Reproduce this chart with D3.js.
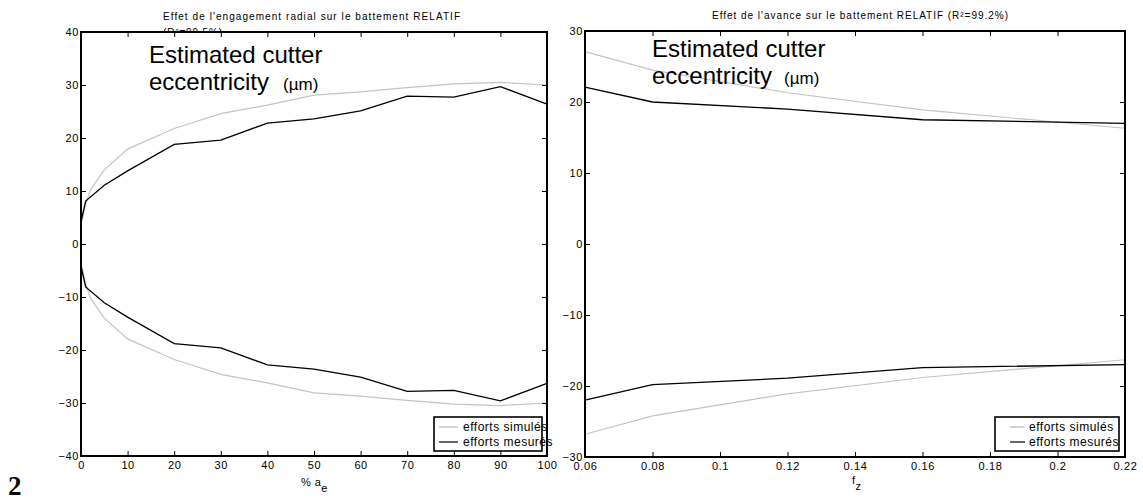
<!DOCTYPE html>
<html><head><meta charset="utf-8">
<script src="https://cdn.jsdelivr.net/npm/d3@7"></script>
<style>
body{margin:0;background:#fff;}
text{font-family:"Liberation Sans",Arial,sans-serif;fill:#000;}
</style></head>
<body><svg id="c" width="1143" height="498"></svg>
<script>
// ---------- data ----------
const aeSimX = [0,1,2,5,10,20,30,40,50,60,70,80,90,100];
const aeSimUp = [3.5,7.5,10.2,14.0,17.9,21.8,24.6,26.2,28.1,28.7,29.5,30.2,30.5,30.0];
const aeSimLo = [-3.5,-7.5,-10.2,-14.0,-17.9,-21.8,-24.6,-26.2,-28.1,-28.7,-29.5,-30.2,-30.5,-30.0];
const aeMesX = [0,1,5,10,20,30,40,50,60,70,80,90,100];
const aeMesUp = [4.2,8.1,11.1,13.8,18.8,19.6,22.8,23.6,25.1,27.9,27.7,29.7,26.4];
const aeMesLo = [-4.2,-8.1,-11.1,-13.8,-18.8,-19.6,-22.8,-23.6,-25.1,-27.8,-27.6,-29.6,-26.3];
const fzX = [0.06,0.08,0.12,0.16,0.22];
const fzSimUp = [27.1,24.5,21.3,18.9,16.3];
const fzSimLo = [-26.8,-24.2,-21.1,-18.8,-16.3];
const fzMesUp = [22.1,20.0,19.0,17.5,17.0];
const fzMesLo = [-22.0,-19.8,-18.9,-17.4,-17.0];
const aeTicks = [0,10,20,30,40,50,60,70,80,90,100];
const aeYTicks = [-40,-30,-20,-10,0,10,20,30,40];
const fzTicks = [0.06,0.08,0.1,0.12,0.14,0.16,0.18,0.2,0.22];
const fzYTicks = [-30,-20,-10,0,10,20,30];
const legendLabels = ["efforts simulés","efforts mesurés"];
const titleLeft = ["Effet de l'engagement radial sur le battement RELATIF","(R²=99.5%)"];
const titleRight = "Effet de l'avance sur le battement RELATIF (R²=99.2%)";

const svg = d3.select("#c");
const simColor = "#c4c4c4", mesColor = "#000";

function panel(o){
  const g = svg.append("g");
  o.titles.forEach(t=>{
    g.append("text").attr("x",t.x).attr("y",t.y).attr("font-size",10)
      .attr("textLength",t.w).attr("lengthAdjust","spacing").text(t.s);
  });
  g.append("rect").attr("x",o.x0).attr("y",o.y0).attr("width",o.x1-o.x0).attr("height",o.y1-o.y0).attr("fill","#fff");
  const x = d3.scaleLinear().domain(o.xd).range([o.x0,o.x1]);
  const y = d3.scaleLinear().domain(o.yd).range([o.y1,o.y0]);
  const line = d3.line().x(d=>x(d[0])).y(d=>y(d[1]));
  o.series.forEach(s=>{
    g.append("path").datum(s.x.map((v,i)=>[v,s.y[i]])).attr("d",line)
      .attr("fill","none").attr("stroke",s.c).attr("stroke-width",s.w);
  });
  const fs = 11;
  const ax = g.append("g").attr("transform",`translate(0,${o.y1})`)
    .call(d3.axisBottom(x).tickValues(o.xt).tickFormat(o.xf).tickSize(-5).tickSizeOuter(0).tickPadding(5));
  const at = g.append("g").attr("transform",`translate(0,${o.y0})`)
    .call(d3.axisTop(x).tickValues(o.xt).tickFormat("").tickSize(-5).tickSizeOuter(0));
  const ay = g.append("g").attr("transform",`translate(${o.x0},0)`)
    .call(d3.axisLeft(y).tickValues(o.yt).tickFormat(d3.format("d")).tickSize(-5).tickSizeOuter(0).tickPadding(2));
  const ar = g.append("g").attr("transform",`translate(${o.x1},0)`)
    .call(d3.axisRight(y).tickValues(o.yt).tickFormat("").tickSize(-5).tickSizeOuter(0));
  [ax,at,ay,ar].forEach(a=>{
    a.select(".domain").remove();
    a.selectAll(".tick line").attr("stroke","#000").attr("stroke-width",1);
    a.selectAll("text").attr("font-family","Liberation Sans, Arial, sans-serif").attr("font-size",fs).attr("letter-spacing",0.6).attr("fill","#000");
  });
  g.append("rect").attr("x",o.x0).attr("y",o.y0).attr("width",o.x1-o.x0).attr("height",o.y1-o.y0)
    .attr("fill","none").attr("stroke","#000").attr("stroke-width",2);
  const an = g.append("g");
  an.append("text").attr("x",o.ann[0]).attr("y",o.ann[1]).attr("font-size",24).text("Estimated cutter");
  const l2 = an.append("text").attr("x",o.ann[0]).attr("y",o.ann[1]+27).attr("font-size",24);
  l2.append("tspan").text("eccentricity");
  l2.append("tspan").attr("font-size",17).attr("dx",o.ann[2]).text("(µm)");
  const xl = g.append("text").attr("x",o.xl[0]).attr("y",o.xl[1]).attr("font-size",11).attr("letter-spacing",0.4);
  xl.append("tspan").text(o.xl[2]);
  xl.append("tspan").attr("dy",6).text(o.xl[3]);
  const L = o.leg;
  g.append("rect").attr("x",L.x).attr("y",L.y).attr("width",L.w).attr("height",L.h)
    .attr("fill","#fff").attr("stroke","#000").attr("stroke-width",1.6);
  [[simColor,1.5],[mesColor,1.2]].forEach((c,i)=>{
    const yy = L.y + 10 + i*15;
    g.append("line").attr("x1",L.lx0).attr("x2",L.lx1).attr("y1",yy).attr("y2",yy)
      .attr("stroke",c[0]).attr("stroke-width",c[1]);
    g.append("text").attr("x",L.tx).attr("y",yy+4).attr("font-size",12).attr("letter-spacing",0.5).text(legendLabels[i]);
  });
}

panel({
  x0:81,x1:547,y0:32,y1:456,xd:[0,100],yd:[-40,40],xt:aeTicks,yt:aeYTicks,xf:d3.format("d"),
  titles:[{x:163,y:20,w:297,s:titleLeft[0]},{x:163,y:36,w:59,s:titleLeft[1]}],
  series:[{x:aeSimX,y:aeSimUp,c:simColor,w:1.2},{x:aeSimX,y:aeSimLo,c:simColor,w:1.2},
          {x:aeMesX,y:aeMesUp,c:mesColor,w:1.3},{x:aeMesX,y:aeMesLo,c:mesColor,w:1.3}],
  ann:[149,63,14],
  xl:[301,486,"% a","e"],
  leg:{x:434,y:417,w:108,h:34,lx0:439,lx1:458,tx:463}
});
panel({
  x0:585,x1:1125,y0:31,y1:457,xd:[0.06,0.22],yd:[-30,30],xt:fzTicks,yt:fzYTicks,xf:d=>String(+d.toFixed(2)),
  titles:[{x:712,y:19,w:296,s:titleRight}],
  series:[{x:fzX,y:fzSimUp,c:simColor,w:1.2},{x:fzX,y:fzSimLo,c:simColor,w:1.2},
          {x:fzX,y:fzMesUp,c:mesColor,w:1.3},{x:fzX,y:fzMesLo,c:mesColor,w:1.3}],
  ann:[652,57,12],
  xl:[852,484,"f","z"],
  leg:{x:995,y:417,w:124,h:34,lx0:1010,lx1:1025,tx:1029}
});
svg.append("text").attr("x",8).attr("y",495).attr("font-size",27).attr("font-weight","bold")
  .style("font-family","Liberation Serif, serif").text("2");
</script></body></html>
